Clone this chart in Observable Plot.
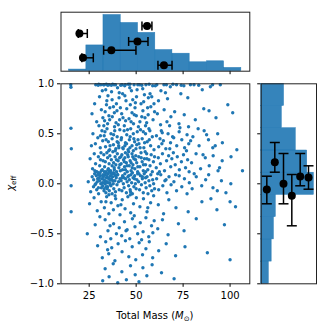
<!DOCTYPE html>
<html><head><meta charset="utf-8">
<script src="https://cdn.jsdelivr.net/npm/d3@7"></script>
<script src="https://cdn.jsdelivr.net/npm/@observablehq/plot@0.6"></script>
<style>
body{margin:0;background:#fff}
#c{position:relative;width:331px;height:327px}
#c svg{position:absolute;left:0;top:0;background:transparent}
</style></head><body><div id="c"></div>
<script>
// ---- data ----
const massTicks = [25, 50, 75, 100];
const chiTicks = [-1, -0.5, 0, 0.5, 1];
// top marginal histogram (total mass)
const massEdges = [14.3, 23.5, 32.6, 41.8, 51.0, 60.2, 69.3, 78.5, 87.7, 96.8, 106.0];
const massCounts = [5, 78, 170, 146, 116, 64, 53, 27, 30, 10];
// right marginal histogram (chi_eff), bottom to top
const chiEdges = [-1, -0.778, -0.556, -0.333, -0.111, 0.111, 0.333, 0.556, 0.778, 1];
const chiCounts = [24, 33, 40, 46, 166, 145, 109, 65, 72];
// points with horizontal error bars on top histogram
const topMass   = [19.8, 21.7, 36.8, 50.7, 55.8, 64.8];
const topMassLo = [19.2, 21.1, 32.7, 46.0, 53.1, 61.6];
const topMassHi = [24.0, 27.2, 49.9, 56.3, 58.4, 69.1];
const topY      = [114, 40.5, 63.5, 90, 137, 18];
// points with vertical error bars on right histogram
const rightChi   = [-0.057, 0.216, 0.0, -0.12, 0.073, 0.063];
const rightChiLo = [-0.2, 0.116, -0.2, -0.42, -0.02, -0.054];
const rightChiHi = [0.076, 0.413, 0.303, 0.093, 0.303, 0.18];
const rightX     = [17.7, 42.9, 70.3, 96.5, 122.9, 149.1];
// scatter [total mass, chi_eff]
const points = [
[15.2,0.99],[15.3,0.965],[28.5,0.99],[29.8,0.985],[31.2,0.99],[30.5,0.87],[27.9,0.80],[32.0,0.93],
[33.0,0.99],[34.1,0.995],[35.6,0.99],[36.8,0.985],[33.8,0.94],[38.2,0.99],[40.1,0.96],[35.0,0.88],[37.2,0.84],[39.5,0.80],[41.0,0.91],[34.2,0.79],
[42.5,0.99],[43.9,0.98],[45.8,0.995],[47.5,0.93],[48.9,0.99],[50.2,0.87],[44.6,0.83],[46.9,0.79],[42.8,0.90],[49.6,0.81],
[51.8,0.99],[53.5,0.95],[55.2,0.99],[57.4,0.90],[58.8,0.98],[54.0,0.82],[56.5,0.86],[59.5,0.80],
[61.0,0.99],[63.2,0.93],[64.8,0.99],[66.7,0.85],[68.2,0.97],[71.5,0.99],[73.8,0.90],[75.4,0.98],[77.5,0.86],
[80.8,0.99],[85.2,0.94],[89.5,0.97],[94.8,0.99],[98.8,0.79],
[26.5,0.70],[29.0,0.62],[31.5,0.74],[30.2,0.58],[32.3,0.66],
[33.5,0.72],[34.8,0.60],[36.0,0.76],[37.3,0.67],[38.5,0.57],[39.8,0.73],[41.2,0.64],[35.5,0.68],[40.5,0.59],[33.2,0.63],[37.9,0.77],
[42.3,0.70],[43.7,0.58],[45.0,0.75],[46.2,0.65],[47.8,0.71],[48.6,0.60],[50.1,0.68],[44.4,0.63],[49.4,0.76],
[52.0,0.62],[53.6,0.73],[55.0,0.58],[56.4,0.69],[57.8,0.77],[59.0,0.64],[54.7,0.66],
[61.3,0.70],[63.0,0.59],[64.9,0.74],[66.4,0.62],[68.5,0.67],[70.5,0.72],[72.8,0.60],[75.6,0.69],[77.9,0.57],
[81.5,0.64],[86.0,0.75],[88.8,0.73],[92.5,0.66],[101.4,0.71],
[15.3,0.555],[15.5,0.35],
[27.0,0.50],[28.3,0.40],[29.6,0.46],[30.9,0.36],[31.8,0.53],[32.2,0.43],[26.2,0.38],
[33.0,0.48],[33.7,0.37],[34.5,0.55],[35.2,0.42],[35.9,0.34],[36.6,0.50],[37.2,0.45],[37.9,0.39],[38.6,0.53],[39.2,0.35],[39.9,0.47],[40.5,0.41],[41.3,0.54],[34.0,0.44],[36.1,0.38],[38.0,0.49],[40.8,0.36],[33.4,0.52],
[42.2,0.46],[42.9,0.36],[43.6,0.53],[44.3,0.41],[45.0,0.49],[45.7,0.34],[46.4,0.44],[47.1,0.55],[47.8,0.38],[48.5,0.50],[49.2,0.42],[49.9,0.35],[50.6,0.52],[44.0,0.38],[46.8,0.47],[48.8,0.45],
[51.5,0.40],[52.3,0.54],[53.2,0.45],[54.1,0.36],[55.0,0.50],[55.9,0.42],[56.8,0.55],[57.7,0.38],[58.6,0.47],[59.5,0.34],[53.8,0.52],[57.0,0.44],
[60.8,0.48],[62.0,0.37],[63.4,0.53],[64.5,0.43],[65.8,0.35],[67.0,0.50],[68.3,0.41],[62.7,0.45],
[70.0,0.46],[71.6,0.38],[72.9,0.52],[74.3,0.44],[75.8,0.36],[77.1,0.49],[78.0,0.40],
[80.2,0.47],[83.5,0.38],[86.2,0.53],[88.5,0.44],[90.8,0.36],[93.4,0.50],[95.9,0.41],[103.6,0.34],
[25.5,0.25],[26.8,0.15],[27.7,0.30],[28.4,0.20],[29.1,0.12],[29.9,0.27],[30.6,0.18],[31.3,0.31],[32.0,0.14],[32.4,0.23],[28.0,0.13],[31.0,0.24],
[32.8,0.29],[33.2,0.17],[33.6,0.22],[34.0,0.12],[34.4,0.31],[34.8,0.26],[35.2,0.15],[35.6,0.20],[36.0,0.28],[36.4,0.13],[36.8,0.24],[37.2,0.18],[37.6,0.32],[38.0,0.21],[38.4,0.14],[38.8,0.27],[39.2,0.19],[39.6,0.12],[40.0,0.30],[40.4,0.23],[40.8,0.16],[41.2,0.26],[41.6,0.13],[35.4,0.33],[37.9,0.11],
[42.0,0.20],[42.4,0.29],[42.8,0.14],[43.3,0.24],[43.8,0.17],[44.3,0.31],[44.8,0.21],[45.3,0.12],[45.8,0.27],[46.3,0.18],[46.8,0.23],[47.3,0.13],[47.8,0.30],[48.3,0.19],[48.8,0.25],[49.3,0.15],[49.8,0.28],[50.3,0.21],[50.8,0.12],[44.0,0.26],[46.0,0.32],[48.0,0.11],
[51.4,0.27],[52.0,0.17],[52.6,0.31],[53.2,0.22],[53.8,0.13],[54.4,0.25],[55.0,0.19],[55.6,0.30],[56.2,0.14],[56.8,0.24],[57.4,0.18],[58.0,0.29],[58.6,0.12],[59.2,0.22],[59.8,0.27],[54.8,0.32],
[60.7,0.16],[61.8,0.26],[62.9,0.20],[64.0,0.30],[65.1,0.13],[66.2,0.23],[67.3,0.28],[68.4,0.17],[69.0,0.25],
[69.8,0.31],[70.8,0.19],[71.9,0.27],[73.0,0.14],[74.1,0.22],[75.2,0.29],[76.3,0.16],[77.4,0.24],[78.2,0.12],
[79.5,0.21],[81.9,0.30],[84.3,0.15],[86.8,0.26],[88.9,0.18],[91.0,0.28],[93.6,0.13],[95.8,0.23],[100.5,0.27],[106.6,0.13],
[15.4,-0.02],
[24.5,0.02],[25.8,-0.08],[26.6,0.07],[27.3,-0.03],[27.9,0.10],[28.5,0.00],[29.0,-0.06],[29.5,0.05],[30.0,-0.10],[30.5,0.03],[31.0,0.08],[31.5,-0.04],[32.0,0.01],[32.4,0.09],[29.8,0.11],
[32.8,0.04],[33.0,-0.05],[33.3,0.09],[33.6,0.00],[33.9,-0.09],[34.2,0.06],[34.5,0.02],[34.8,-0.03],[35.1,0.10],[35.4,0.05],[35.7,-0.07],[36.0,0.01],[36.3,0.08],[36.6,-0.02],[36.9,0.04],[37.2,-0.10],[37.5,0.07],[37.8,0.00],[38.1,-0.05],[38.4,0.10],[38.7,0.03],[39.0,-0.08],[39.4,0.06],[39.8,-0.01],[40.2,0.09],[40.6,0.02],[41.0,-0.06],[41.4,0.05],[34.0,0.11],[36.5,0.11],[39.0,0.08],[35.5,-0.11],
[42.0,0.03],[42.4,-0.07],[42.8,0.08],[43.2,0.00],[43.6,-0.04],[44.0,0.10],[44.4,0.05],[44.8,-0.09],[45.2,0.02],[45.6,0.07],[46.0,-0.02],[46.4,0.04],[46.8,-0.06],[47.2,0.09],[47.6,0.01],[48.0,-0.10],[48.4,0.06],[48.8,-0.03],[49.2,0.08],[49.6,0.00],[50.0,-0.05],[50.4,0.04],[50.8,0.10],[43.5,0.06],[47.0,-0.08],
[51.3,0.02],[51.8,-0.06],[52.3,0.08],[52.8,-0.01],[53.3,0.05],[53.8,-0.09],[54.3,0.10],[54.8,0.01],[55.3,-0.04],[55.8,0.07],[56.3,-0.10],[56.8,0.03],[57.3,-0.02],[57.8,0.09],[58.3,-0.07],[58.8,0.04],[59.3,0.00],[59.8,-0.05],[55.0,0.06],
[60.9,0.05],[62.0,-0.06],[63.1,0.09],[64.2,-0.02],[65.3,0.03],[66.4,-0.09],[67.5,0.07],[68.6,-0.01],[61.5,0.10],
[70.1,0.02],[71.5,-0.07],[72.9,0.08],[74.3,-0.03],[75.7,0.05],[77.1,-0.10],[78.3,0.01],
[79.8,-0.05],[82.0,0.07],[84.9,-0.02],[87.0,0.04],[88.6,0.09],[90.9,-0.04],[93.2,-0.07],[95.4,0.03],[100.4,0.00],[97.8,-0.09],
[15.4,-0.28],[25.2,-0.20],[27.6,-0.14],[29.3,-0.27],[31.4,-0.18],
[33.1,-0.24],[34.3,-0.13],[35.5,-0.30],[36.7,-0.19],[37.9,-0.26],[39.1,-0.15],[40.3,-0.22],[41.4,-0.31],
[42.6,-0.16],[44.1,-0.25],[45.6,-0.13],[47.1,-0.29],[48.6,-0.20],[50.1,-0.14],
[52.0,-0.23],[53.9,-0.15],[55.8,-0.28],[57.7,-0.19],[59.3,-0.12],
[61.8,-0.21],[64.6,-0.30],[67.4,-0.16],[71.2,-0.24],[77.7,-0.28],[85.0,-0.18],[89.8,-0.15],[93.0,-0.26],[102.9,-0.23],[100.0,-0.18],
[24.0,-0.50],[28.2,-0.41],[31.0,-0.53],
[33.5,-0.36],[35.0,-0.47],[36.5,-0.55],[38.0,-0.40],[39.5,-0.50],[41.0,-0.44],
[42.3,-0.52],[43.8,-0.38],[45.2,-0.46],[46.6,-0.55],[48.0,-0.35],[49.4,-0.43],[50.8,-0.50],
[52.2,-0.39],[53.7,-0.48],[55.2,-0.34],[56.7,-0.53],[58.2,-0.42],[59.6,-0.37],
[61.5,-0.45],[64.0,-0.36],[67.0,-0.51],[72.5,-0.40],[75.5,-0.47],[82.0,-0.35],[97.0,-0.41],
[29.5,-0.62],[32.0,-0.74],
[33.8,-0.58],[35.4,-0.70],[37.0,-0.64],[38.7,-0.77],[40.4,-0.60],
[42.5,-0.68],[44.3,-0.57],[46.1,-0.73],[47.9,-0.63],[49.8,-0.76],
[51.6,-0.59],[53.4,-0.71],[55.2,-0.65],[57.0,-0.58],[58.8,-0.74],
[62.0,-0.67],[66.0,-0.60],[71.0,-0.72],[76.0,-0.63],[87.9,-0.69],[100.0,-0.76],
[32.2,-0.97],[33.5,-0.85],[35.6,-0.93],[37.8,-0.80],[40.2,-0.99],
[42.4,-0.88],[44.8,-0.96],[47.0,-0.82],[49.5,-0.91],
[51.5,-0.98],[53.6,-0.84],[55.7,-0.92],[58.5,-0.81],[63.5,-0.89],[70.2,-0.95],
[30.1,0.995],[32.6,0.99],[34.9,0.985],[37.5,0.995],[39.0,0.99],[41.8,0.985],[44.2,0.99],[46.7,0.995],[50.9,0.99],[53.0,0.985],[56.9,0.995],[60.2,0.98],[66.1,0.99],[69.6,0.995],[74.0,0.985],[78.9,0.99],[83.3,0.985],[90.7,0.99],
[27.4,0.04],[28.1,-0.01],[28.8,0.08],[29.3,0.02],[29.9,-0.04],[30.3,0.06],[30.8,0.11],[31.2,0.00],[31.7,0.05],[32.2,-0.02],[32.6,0.07],[33.1,0.12],[33.5,0.03],[34.0,-0.03],[34.4,0.08],[34.9,0.01],[35.3,0.06],[35.8,0.12],[36.2,-0.01],[36.7,0.05],[37.1,0.10],[37.6,0.03],[30.0,0.09],[31.5,0.13],[33.0,0.01],[35.0,0.14],[36.0,0.04],[28.6,0.12],[32.9,-0.07],[34.6,-0.05],
[38.3,0.16],[38.9,0.33],[39.5,0.24],[40.1,0.09],[40.7,0.38],[41.3,0.19],[41.9,0.27],[42.5,0.06],[43.1,0.35],[43.7,0.22],[44.3,0.14],[44.9,0.40],[45.5,0.29],[46.1,0.08],[46.7,0.36],[47.3,0.21],[47.9,0.16],[48.5,0.33],[49.1,0.05],[49.7,0.24],[50.3,0.39],[50.9,0.17],[51.5,0.10],[52.1,0.36],[52.7,0.26],[53.3,0.07],[53.9,0.19],[54.5,0.41],[55.1,0.12],[55.7,0.25],[39.9,0.42],[42.0,0.44],[45.1,0.18],[48.2,0.27],[51.0,0.44],
[31.0,0.48],[32.8,0.58],[34.4,0.83],[35.9,0.64],[36.9,0.92],[38.4,0.71],[39.3,0.61],[40.9,0.86],[41.6,0.76],[43.0,0.66],[44.0,0.88],[45.4,0.54],[46.6,0.96],[47.3,0.62],[48.2,0.84],[49.0,0.69],[50.5,0.94],[51.2,0.57],[52.6,0.80],[53.0,0.67],[54.4,0.89],[55.6,0.61],[56.1,0.76],[57.3,0.53],[58.3,0.87],[59.8,0.72],[61.9,0.83],[63.9,0.51],[65.6,0.91],[67.8,0.58],
[62.4,0.12],[63.7,0.40],[65.9,0.04],[67.9,0.35],[69.4,0.47],[71.0,0.09],[73.3,0.56],[76.8,0.33],[79.0,0.43],[80.9,0.10],[83.0,0.55],[85.6,0.29],[87.5,0.49],[92.1,0.38],[94.4,0.16],
[30.7,-0.33],[33.9,-0.18],[36.1,-0.42],[38.8,-0.12],[41.9,-0.21],[44.6,-0.47],[46.9,-0.11],[49.0,-0.32],[52.9,-0.56],[56.2,-0.24],[58.9,-0.49],[34.8,-0.66]
];

// ---- layout (page pixels) ----
const W = 331, H = 327;
const mainL = 60.5, mainR = 249.3, mainT = 83.3, mainB = 283.3;
const topT = 11.7, topB = 70.7;
const rightL = 260.7, rightR = 316;
const blue = "#1f77b4";
const base = {width: W, height: H, style: {background: "transparent", fontFamily: "DejaVu Sans", fontSize: "10px", color: "#000", overflow: "visible"}};
const massDomain = [10, 110.5];

const vcap = {draw(ctx) { ctx.moveTo(0, -4.5); ctx.lineTo(0, 4.5); }};
const hcap = {draw(ctx) { ctx.moveTo(-5, 0); ctx.lineTo(5, 0); }};

const massBins = massCounts.map((n, i) => ({x1: massEdges[i], x2: massEdges[i + 1], n}));
const chiBins = chiCounts.map((n, i) => ({y1: chiEdges[i], y2: chiEdges[i + 1], n}));
const topData = topMass.map((m, i) => ({m, lo: topMassLo[i], hi: topMassHi[i], y: topY[i]}));
const rightData = rightChi.map((c, i) => ({c, lo: rightChiLo[i], hi: rightChiHi[i], x: rightX[i]}));

const mainPlot = Plot.plot({
  ...base,
  marginLeft: mainL, marginRight: W - mainR, marginTop: mainT, marginBottom: H - mainB,
  x: {domain: massDomain, ticks: massTicks, tickSize: 3.5, tickPadding: 5, label: null},
  y: {domain: [-1, 1], ticks: chiTicks, tickSize: 3.5, tickPadding: 3.5, tickFormat: d3.format(".1f"), label: null},
  marks: [
    Plot.dot(points, {x: d => d[0], y: d => d[1], r: 1.7, fill: blue}),
    Plot.frame({stroke: "#222", strokeWidth: 1})
  ]
});

const topPlot = Plot.plot({
  ...base,
  marginLeft: mainL, marginRight: W - mainR, marginTop: topT, marginBottom: H - topB,
  x: {domain: massDomain, ticks: massTicks, tickSize: 3.5, tickFormat: () => "", label: null},
  y: {domain: [0, 178.5], axis: null},
  marks: [
    Plot.rectY(massBins, {x1: "x1", x2: "x2", y: "n", inset: 0, fill: blue, fillOpacity: 0.9, stroke: blue, strokeOpacity: 0.9, strokeWidth: 0.5}),
    Plot.frame({stroke: "#222", strokeWidth: 1}),
    Plot.link(topData, {x1: "lo", x2: "hi", y1: "y", y2: "y", stroke: "#000", strokeWidth: 1.5}),
    Plot.dot(topData, {x: "lo", y: "y", symbol: vcap, fill: "none", stroke: "#000", strokeWidth: 1.5}),
    Plot.dot(topData, {x: "hi", y: "y", symbol: vcap, fill: "none", stroke: "#000", strokeWidth: 1.5}),
    Plot.dot(topData, {x: "m", y: "y", r: 4, fill: "#000"})
  ]
});

const rightPlot = Plot.plot({
  ...base,
  marginLeft: rightL, marginRight: W - rightR, marginTop: mainT, marginBottom: H - mainB,
  x: {domain: [0, 174.3], axis: null},
  y: {domain: [-1, 1], ticks: chiTicks, tickSize: 3.5, tickFormat: () => "", label: null},
  marks: [
    Plot.rectX(chiBins, {y1: "y1", y2: "y2", x: "n", inset: 0, fill: blue, fillOpacity: 0.9, stroke: blue, strokeOpacity: 0.9, strokeWidth: 0.5}),
    Plot.frame({stroke: "#222", strokeWidth: 1}),
    Plot.link(rightData, {y1: "lo", y2: "hi", x1: "x", x2: "x", stroke: "#000", strokeWidth: 1.5}),
    Plot.dot(rightData, {x: "x", y: "lo", symbol: hcap, fill: "none", stroke: "#000", strokeWidth: 1.5}),
    Plot.dot(rightData, {x: "x", y: "hi", symbol: hcap, fill: "none", stroke: "#000", strokeWidth: 1.5}),
    Plot.dot(rightData, {x: "x", y: "c", r: 4, fill: "#000"})
  ]
});

const c = document.getElementById("c");
c.append(mainPlot, topPlot, rightPlot);

// axis labels with italic / subscript parts
const s = d3.select(mainPlot);
const xl = s.append("text").attr("x", (mainL + mainR) / 2).attr("y", 319)
  .attr("text-anchor", "middle").attr("fill", "#000").attr("font-family", "DejaVu Sans").attr("font-size", 10);
xl.append("tspan").text("Total Mass (");
xl.append("tspan").attr("font-style", "italic").text("M");
xl.append("tspan").attr("font-size", 7).attr("dy", 2).text("⊙");
xl.append("tspan").attr("dy", -2).text(")");
const yl = s.append("text").attr("transform", `translate(13.5,${(mainT + mainB) / 2}) rotate(-90)`)
  .attr("text-anchor", "middle").attr("fill", "#000").attr("font-family", "DejaVu Sans").attr("font-size", 10);
yl.append("tspan").attr("font-style", "italic").text("χ");
yl.append("tspan").attr("font-size", 7).attr("dy", 2).text("eff");
</script>
</body></html>
